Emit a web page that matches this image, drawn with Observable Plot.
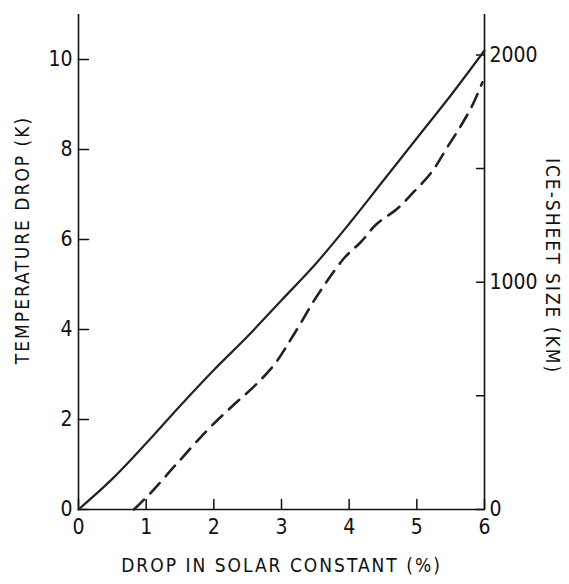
<!DOCTYPE html>
<html>
<head>
<meta charset="utf-8">
<script src="https://cdn.jsdelivr.net/npm/d3@7"></script>
<script src="https://cdn.jsdelivr.net/npm/@observablehq/plot@0.6"></script>
<style>
  html, body { margin: 0; padding: 0; background: #fff; }
</style>
</head>
<body>
<div id="chart"></div>
<script>
// Solid curve: temperature drop (K) vs drop in solar constant (%)
const solidX = [0, 0.5, 1, 1.5, 2, 2.5, 3, 3.5, 4, 4.5, 5, 5.5, 6];
const solidT = [0, 0.68, 1.47, 2.3, 3.1, 3.85, 4.65, 5.45, 6.35, 7.3, 8.25, 9.2, 10.2];

// Dashed curve: ice-sheet size (km) vs drop in solar constant (%)
const dashX  = [0.82, 1.06, 1.43, 1.92, 2.31, 2.61, 2.905, 3.13, 3.28, 3.48, 3.70, 3.94, 4.17, 4.41, 4.71, 4.95, 5.22, 5.45, 5.64, 5.82, 5.97];
const dashKm = [0, 71, 194, 354, 465, 546, 642, 745, 818, 919, 1016, 1111, 1176, 1257, 1323, 1396, 1485, 1594, 1683, 1778, 1880];

const xTicks = [0, 1, 2, 3, 4, 5, 6];
const yTicks = [0, 2, 4, 6, 8, 10];
const kmTicks = [0, 500, 1000, 1500, 2000];
const kmLabels = [0, 1000, 2000];

const xTitle = "DROP IN SOLAR CONSTANT (%)";
const yTitle = "TEMPERATURE DROP (K)";
const y2Title = "ICE-SHEET SIZE (KM)";

// right axis calibration: km per K on the shared vertical scale
const kmPerK = 198;

const solid = solidX.map((x, i) => ({x, y: solidT[i]}));
const dashed = dashX.map((x, i) => ({x, y: dashKm[i] / kmPerK}));
const kmTickPos = kmTicks.map(k => k / kmPerK);

const font = "'Liberation Sans Narrow', 'DejaVu Sans Condensed', 'Liberation Sans', sans-serif";
const tickShape = {draw(context, l) { context.moveTo(0, 0); context.lineTo(0, -l); }};
const ink = "#111";

const chart = Plot.plot({
  width: 569,
  height: 584,
  marginLeft: 78,
  marginRight: 85,
  marginTop: 14,
  marginBottom: 75,
  style: {fontFamily: font, fontSize: "21px", color: ink, background: "#fff"},
  x: {domain: [0, 6]},
  y: {domain: [0, 11]},
  marks: [
    // tick labels
    Plot.axisX(xTicks, {tickSize: 0, tickPadding: 10, label: null, tickFormat: d => String(d)}),
    Plot.axisY(yTicks, {anchor: "left", tickSize: 0, tickPadding: 6, label: null, tickFormat: d => String(d)}),
    Plot.axisY(kmTickPos, {anchor: "right", tickSize: 0, tickPadding: 5, label: null,
      tickFormat: (d, i) => kmLabels.includes(kmTicks[i]) ? String(kmTicks[i]) : ""}),
    // inward ticks
    Plot.vector(xTicks, {x: d => d, frameAnchor: "bottom", length: 10, rotate: 0, anchor: "start", shape: tickShape, stroke: ink, strokeWidth: 1.5}),
    Plot.vector(yTicks, {y: d => d, frameAnchor: "left", length: 10, rotate: 90, anchor: "start", shape: tickShape, stroke: ink, strokeWidth: 1.5}),
    Plot.vector(kmTickPos, {y: d => d, frameAnchor: "right", length: 8, rotate: -90, anchor: "start", shape: tickShape, stroke: ink, strokeWidth: 1.5}),
    // axis lines
    Plot.ruleX([0, 6], {y1: 0, y2: 11, stroke: ink, strokeWidth: 1.6}),
    Plot.ruleY([0], {x1: 0, x2: 6, stroke: ink, strokeWidth: 1.6}),
    // curves
    Plot.line(solid, {x: "x", y: "y", curve: "catmull-rom", stroke: "#222", strokeWidth: 2.2}),
    Plot.line(dashed, {x: "x", y: "y", curve: "catmull-rom", stroke: "#222", strokeWidth: 2.6, strokeDasharray: "14,9"}),
    // axis titles
    Plot.text([xTitle], {text: d => d, frameAnchor: "bottom", dy: 62, fontSize: 19, fill: ink, textAnchor: "middle"}),
    Plot.text([yTitle], {text: d => d, frameAnchor: "left", dx: -56, dy: -22, rotate: -90, fontSize: 19, fill: ink, textAnchor: "middle"}),
    Plot.text([y2Title], {text: d => d, frameAnchor: "right", dx: 68, dy: 4, rotate: 90, fontSize: 19, fill: ink, textAnchor: "middle"})
  ]
});
document.getElementById("chart").appendChild(chart);
// letter spacing for axis titles
chart.querySelectorAll("text").forEach(t => {
  if ([xTitle, yTitle, y2Title].includes(t.textContent)) t.setAttribute("letter-spacing", "2px");
});
</script>
</body>
</html>
